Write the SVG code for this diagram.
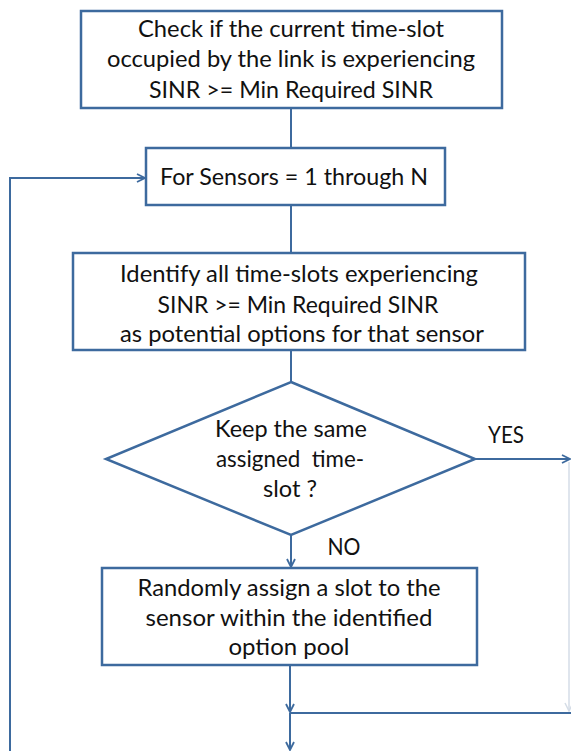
<svg xmlns="http://www.w3.org/2000/svg" width="571" height="751" viewBox="0 0 571 751">
<defs>
<style>
.box{fill:#ffffff;stroke:#3d6a9e;stroke-width:2.5}
.ln{fill:none;stroke:#3d6a9e;stroke-width:2}
.faint{fill:none;stroke:#d5dde7;stroke-width:1.5}
text{font-family:Lato,"Open Sans","Liberation Sans",sans-serif;font-size:23px;fill:#111111;text-anchor:middle}
</style>
<marker id="arr" viewBox="0 0 10 10" refX="9" refY="5" markerWidth="10" markerHeight="10" markerUnits="userSpaceOnUse" orient="auto">
<path d="M1,1 L9,5 L1,9" fill="none" stroke="#3d6a9e" stroke-width="1.8"/>
</marker>
<marker id="arrf" viewBox="0 0 10 10" refX="9" refY="5" markerWidth="10" markerHeight="10" markerUnits="userSpaceOnUse" orient="auto">
<path d="M1,1 L9,5 L1,9" fill="none" stroke="#d5dde7" stroke-width="1.5"/>
</marker>
</defs>
<rect width="571" height="751" fill="#ffffff"/>
<g id="connectors">
<line class="ln" x1="291" y1="108" x2="291" y2="148"/>
<line class="ln" x1="291" y1="205" x2="291" y2="253"/>
<line class="ln" x1="291" y1="350" x2="291" y2="382"/>
<line class="ln" x1="291" y1="535" x2="291" y2="567" marker-end="url(#arr)"/>
<polyline class="ln" points="475,459 570,459" marker-end="url(#arr)"/>
<line class="faint" x1="569" y1="462" x2="569" y2="711" marker-end="url(#arrf)"/>
<line class="ln" x1="290" y1="665" x2="290" y2="712" marker-end="url(#arr)"/>
<line class="ln" x1="290" y1="713" x2="571" y2="713"/>
<line class="ln" x1="290" y1="713" x2="290" y2="750" marker-end="url(#arr)"/>
<polyline class="ln" points="10,751 10,178 145,178" marker-end="url(#arr)"/>
<text x="506" y="443" textLength="36" lengthAdjust="spacingAndGlyphs">YES</text>
<text x="344" y="555" textLength="33" lengthAdjust="spacingAndGlyphs">NO</text>
</g>
<g id="check">
<rect class="box" x="81" y="11" width="421" height="97"/>
<text x="291" y="37" textLength="306" lengthAdjust="spacingAndGlyphs">Check if the current time-slot</text>
<text x="291" y="67" textLength="368" lengthAdjust="spacingAndGlyphs">occupied by the link is experiencing</text>
<text x="291" y="98" textLength="284" lengthAdjust="spacingAndGlyphs">SINR &gt;= Min Required SINR</text>
</g>
<g id="loop">
<rect class="box" x="146" y="148" width="299" height="57"/>
<text x="294" y="185" textLength="268" lengthAdjust="spacingAndGlyphs">For Sensors = 1 through N</text>
</g>
<g id="identify">
<rect class="box" x="73" y="253" width="452" height="97"/>
<text x="299" y="282" textLength="358" lengthAdjust="spacingAndGlyphs">Identify all time-slots experiencing</text>
<text x="298" y="313" textLength="281" lengthAdjust="spacingAndGlyphs">SINR &gt;= Min Required SINR</text>
<text x="302" y="342" textLength="364" lengthAdjust="spacingAndGlyphs">as potential options for that sensor</text>
</g>
<g id="decision">
<polygon class="box" points="291,382 475,459 291,535 106,459"/>
<text x="291" y="437" textLength="152" lengthAdjust="spacingAndGlyphs">Keep the same</text>
<text x="290" y="467" xml:space="preserve" textLength="148" lengthAdjust="spacingAndGlyphs">assigned  time-</text>
<text x="290" y="497" textLength="54" lengthAdjust="spacingAndGlyphs">slot ?</text>
</g>
<g id="assign">
<rect class="box" x="102" y="568" width="375" height="97"/>
<text x="289" y="596" textLength="303" lengthAdjust="spacingAndGlyphs">Randomly assign a slot to the</text>
<text x="289" y="626" textLength="287" lengthAdjust="spacingAndGlyphs">sensor within the identified</text>
<text x="289" y="655" textLength="121" lengthAdjust="spacingAndGlyphs">option pool</text>
</g>
</svg>
